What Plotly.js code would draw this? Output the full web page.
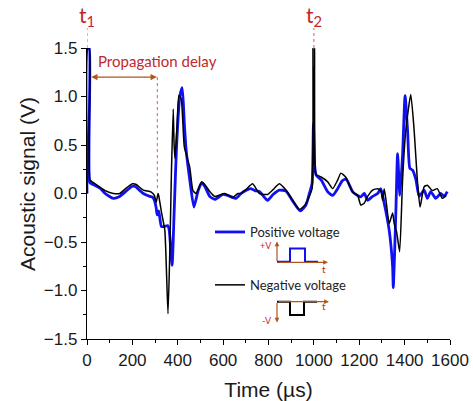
<!DOCTYPE html>
<html><head><meta charset="utf-8">
<script src="https://cdn.plot.ly/plotly-3.0.1.min.js"></script>
<style>html,body{margin:0;padding:0;background:#fff}#chart{width:473px;height:401px}</style>
</head><body><div id="chart"></div>
<script>
// ---- data ----
const timePos = [0,2,10,13,30,60,80,116,144,170,200,215,233,248,277,290,297,305,309,316,328,343,355,362,375,384,394,409,420,429,437,453,471,490,505,520,541,563,599,620,657,679,700,720,740,760,796,820,848,877,910,940,965,980,992,998,1003,1010,1032,1061,1083,1105,1125,1142,1171,1193,1207,1222,1237,1259,1281,1295,1310,1332,1347,1350,1356,1362,1369,1379,1391,1402,1413,1423,1435,1450,1464,1486,1500,1515,1537,1559,1574,1588];
const posVoltage = [0,1.5,1.5,0.11,0.09,0.05,0.0,-0.05,-0.03,0.02,0.075,0.07,0.03,0.0,-0.03,-0.04,-0.07,-0.15,-0.22,-0.18,-0.34,-0.34,-0.33,-0.37,-0.74,-0.2,0.45,1.0,1.09,0.72,0.45,0.14,-0.14,0.03,0.11,0.07,-0.03,-0.06,-0.01,-0.02,-0.05,0.0,0.03,0.05,0.03,0.02,-0.07,-0.01,0.035,0.025,-0.09,-0.18,-0.12,0.0,0.1,0.72,0.3,0.19,0.14,0.017,-0.02,0.05,0.13,0.15,0.017,-0.02,-0.035,0.0,-0.07,-0.03,0.0,0.05,-0.1,-0.38,-0.75,-0.97,-0.6,-0.14,0.41,-0.02,0.4,1.01,0.65,0.26,0.24,0.14,-0.03,0.034,-0.05,0.02,-0.05,0.0,-0.03,0.02];
const timeNeg = [0,2,10,13,30,60,80,116,144,170,200,215,248,283,297,305,313,316,328,343,357,365,372,380,384,388,397,405,415,429,453,467,481,505,520,541,563,580,607,643,665,679,700,730,760,796,820,848,877,910,936,960,980,992,996,999.5,1003,1008,1013,1032,1061,1083,1105,1119,1140,1171,1193,1207,1222,1237,1259,1281,1295,1303,1310,1318,1332,1347,1354,1365,1378,1391,1405,1427,1442,1456,1468,1486,1500,1522,1544,1566,1584];
const negVoltage = [0,1.5,1.5,0.14,0.11,0.06,0.03,0.0,0.0,0.05,0.10,0.095,0.035,0.015,-0.02,-0.09,0.0,-0.02,-0.19,-0.38,-1.24,-0.6,0.2,0.87,0.5,0.36,0.7,1.01,0.98,0.48,0.27,0.03,0.0,0.12,0.09,0.02,-0.03,-0.02,0.0,-0.04,0.0,0.0,0.04,0.10,0.0,-0.01,0.04,0.10,0.035,-0.08,-0.165,-0.12,-0.03,0.05,1.5,0.3,1.5,0.2,0.19,0.17,0.12,0.05,0.14,0.21,0.17,0.015,-0.02,-0.12,-0.1,-0.03,0.035,0.05,0.03,-0.07,0.05,-0.07,-0.31,-0.2,-0.31,-0.4,-0.6,0.14,0.65,1.02,0.65,0.14,-0.14,0.07,0.085,0.03,0.05,-0.05,-0.02];
const seriesNames = ['Positive voltage', 'Negative voltage'];
const xTickVals = [0,200,400,600,800,1000,1200,1400,1600];
const yTickVals = [-1.5,-1.0,-0.5,0.0,0.5,1.0,1.5];
const xTitle = 'Time (\u00b5s)', yTitle = 'Acoustic signal (V)';
const t1Time = 0, t2Time = 1000, delayStart = 12, delayEnd = 308;

// ---- layout geometry helpers (pixel -> paper) ----
const W = 473, H = 401, ML = 87, MR = 23, MT = 48, MB = 62;
const PW = W - ML - MR, PH = H - MT - MB;
const px = v => (v - ML) / PW;
const py = v => (H - MB - v) / PH;
const path = pts => pts.map((p, i) => (i ? 'L' : 'M') + px(p[0]).toFixed(4) + ',' + py(p[1]).toFixed(4)).join(' ');

const RED = '#c0282d', BROWN = '#b0561e', DOT = '#d9595a';

const traces = [
  {x: timePos, y: posVoltage, type: 'scatter', mode: 'lines', name: seriesNames[0], legendgroup: 'p',
   line: {color: '#1010f0', width: 2.8, shape: 'spline', smoothing: 0.5}},
  {x: timeNeg, y: negVoltage, type: 'scatter', mode: 'lines', name: seriesNames[1], legendgroup: 'n',
   line: {color: '#000000', width: 1.5, shape: 'spline', smoothing: 0.5}}
];

const shapes = [
  {type: 'line', xref: 'x', yref: 'paper', x0: t1Time, x1: t1Time, y0: 1, y1: py(28), line: {color: DOT, width: 1, dash: 'dot'}},
  {type: 'line', xref: 'x', yref: 'paper', x0: t2Time, x1: t2Time, y0: 1, y1: py(28), line: {color: DOT, width: 1, dash: 'dot'}},
  {type: 'line', xref: 'x', yref: 'y', x0: delayEnd + 2, x1: delayEnd + 2, y0: 1.2, y1: 0.03, line: {color: DOT, width: 1, dash: 'dot'}},
  {type: 'path', xref: 'paper', yref: 'paper', path: path([[277,261.7],[290,261.7],[290,248.5],[305,248.5],[305,261.7],[318,261.7]]), line: {color: '#1010f0', width: 2}},
  {type: 'path', xref: 'paper', yref: 'paper', path: path([[277,301.7],[290,301.7],[290,315],[304,315],[304,301.7],[317,301.7]]), line: {color: '#000', width: 2}}
];

const arrow = (tipX, tipY, ax, ay) => ({xref: 'paper', yref: 'paper', x: px(tipX), y: py(tipY), ax: ax, ay: ay, text: '',
  showarrow: true, arrowhead: 2, arrowsize: 0.8, arrowwidth: 1.2, arrowcolor: BROWN});
const label = (t, x, y, size) => ({xref: 'paper', yref: 'paper', x: px(x), y: py(y), xanchor: 'center', yanchor: 'middle', text: t, showarrow: false,
  font: {family: 'Lato, sans-serif', size: size, color: RED}});

const annotations = [
  {xref: 'paper', yref: 'paper', x: px(27), y: py(184), xanchor: 'center', yanchor: 'middle', textangle: -90, text: yTitle, showarrow: false,
   font: {family: 'Liberation Sans, Arial, sans-serif', size: 21, color: '#1a1a1a'}},
  {xref: 'x', yref: 'paper', x: t1Time, y: py(16), xanchor: 'center', yanchor: 'middle', text: 't<sub>1</sub>', showarrow: false, font: {family: 'Lato, sans-serif', size: 21, color: RED}},
  {xref: 'x', yref: 'paper', x: t2Time, y: py(16), xanchor: 'center', yanchor: 'middle', text: 't<sub>2</sub>', showarrow: false, font: {family: 'Lato, sans-serif', size: 21, color: RED}},
  {xref: 'paper', yref: 'paper', x: px(157.5), y: py(61), xanchor: 'center', yanchor: 'middle', text: 'Propagation delay', showarrow: false, font: {family: 'Lato, sans-serif', size: 15, color: RED}},
  {xref: 'x', yref: 'y', axref: 'x', ayref: 'y', x: delayEnd, y: 1.2, ax: delayStart, ay: 1.2, text: '', showarrow: true,
   arrowside: 'end+start', arrowhead: 2, startarrowhead: 2, arrowsize: 0.9, startarrowsize: 0.9, arrowwidth: 1.4, arrowcolor: BROWN},
  arrow(328, 262.3, -51, 0), arrow(277, 241.5, 0, 21),
  arrow(329, 301.7, -52, 0), arrow(277, 322.5, 0, -21),
  label('+V', 266, 245, 9), label('t', 324, 269, 10),
  label('-V', 267, 320, 9), label('t', 324, 306, 10)
];

const axisFont = {family: 'Liberation Sans, Arial, sans-serif', size: 17, color: '#1a1a1a'};
const layout = {
  width: W, height: H, margin: {l: ML, r: MR, t: MT, b: MB},
  paper_bgcolor: '#fff', plot_bgcolor: '#fff', showlegend: true,
  xaxis: {range: [0, 1600], tickvals: xTickVals, ticks: 'outside', ticklen: 5, tickwidth: 1, tickcolor: '#000',
    showline: true, linecolor: '#000', linewidth: 1.2, showgrid: false, zeroline: false, tickfont: axisFont,
    minor: {dtick: 100, ticks: 'outside', ticklen: 3, tickcolor: '#000', showgrid: false},
    title: {text: xTitle, font: {family: 'Liberation Sans, Arial, sans-serif', size: 21, color: '#1a1a1a'}, standoff: 14}},
  yaxis: {range: [-1.5, 1.5], tickvals: yTickVals, tickformat: '.1f', ticks: 'outside', ticklen: 5, tickwidth: 1, tickcolor: '#000',
    showline: true, linecolor: '#000', linewidth: 1.2, showgrid: false, zeroline: false, tickfont: axisFont,
    minor: {dtick: 0.25, ticks: 'outside', ticklen: 3, tickcolor: '#000', showgrid: false}},
  legend: {x: px(210), y: py(217), xanchor: 'left', yanchor: 'top', bgcolor: 'rgba(0,0,0,0)', borderwidth: 0,
    traceorder: 'grouped', tracegroupgap: 33,
    font: {family: 'Lato, sans-serif', size: 13, color: '#222'}},
  shapes: shapes, annotations: annotations
};

Plotly.newPlot('chart', traces, layout, {staticPlot: true, displayModeBar: false});
</script></body></html>
